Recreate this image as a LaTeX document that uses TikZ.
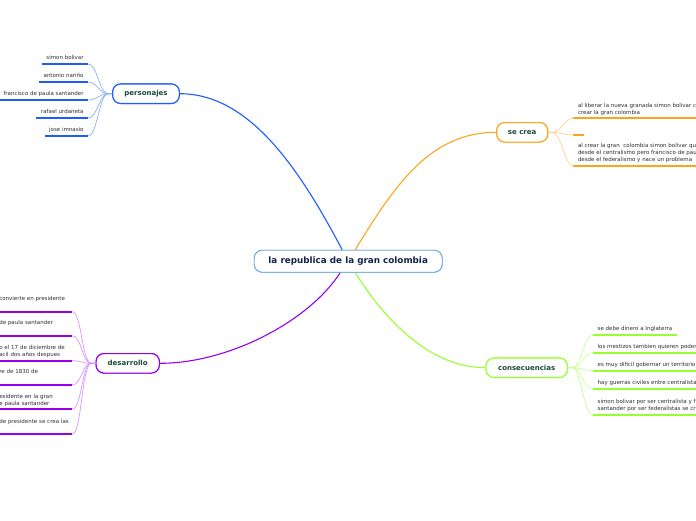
\documentclass[tikz,border=0pt]{standalone}
\usepackage{fontspec}
\setmainfont{DejaVu Sans}
\definecolor{blueMain}{RGB}{30,92,255}
\definecolor{blueLight}{RGB}{140,172,255}
\definecolor{orangeMain}{RGB}{255,163,30}
\definecolor{orangeLight}{RGB}{255,208,145}
\definecolor{greenMain}{RGB}{150,255,50}
\definecolor{greenLight}{RGB}{200,255,150}
\definecolor{purpleMain}{RGB}{150,0,240}
\definecolor{purpleLight}{RGB}{215,150,255}
\definecolor{centerBorder}{RGB}{105,168,222}
\definecolor{nodeText}{RGB}{25,72,58}
\definecolor{centerText}{RGB}{20,35,75}
\definecolor{subText}{RGB}{45,45,45}
\begin{document}
\begin{tikzpicture}[x=1pt,y=-1pt,
  topic/.style={draw, rounded corners=8pt, fill=white, line width=1.1pt,
    font=\fontsize{7}{8}\selectfont\bfseries, text=nodeText,
    minimum height=19.5pt, inner xsep=0pt},
  central/.style={draw=centerBorder, rounded corners=8pt, fill=white, line width=0.9pt,
    font=\fontsize{8.8}{10}\selectfont\bfseries, text=centerText,
    minimum width=188pt, minimum height=22pt, inner xsep=0pt},
  sub/.style={font=\fontsize{5.5}{7}\selectfont, text=subText, inner xsep=4.5pt,
    inner ysep=2.8pt, align=left, execute at end node={\vphantom{gj}}},
  subcut/.style={sub, text width=68pt, anchor=south east},
  mainline/.style={line width=1.1pt},
  ul/.style={line width=1.8pt},
  conn/.style={line width=0.7pt}
]
\useasboundingbox (0,0) rectangle (696,520);
\clip (0,0) rectangle (696,520);

% central node
\node[central] (center) at (348.2,261.2) {la republica de la gran colombia};

% main connector anchors
\coordinate (bA) at ([xshift=-6pt]center.north);
\coordinate (oA) at ([xshift=7pt]center.north);
\coordinate (pA) at ([xshift=-8pt]center.south);
\coordinate (gA) at ([xshift=7pt]center.south);

% topics
\node[topic, draw=blueMain, minimum width=66.6pt] (pers) at (146,93.7) {personajes};
\node[topic, draw=orangeMain, minimum width=51pt] (secrea) at (522.2,132.3) {se crea};
\node[topic, draw=greenMain, minimum width=81.3pt] (cons) at (526.7,367.7) {consecuencias};
\node[topic, draw=purpleMain, minimum width=63.3pt] (desa) at (127.7,363.3) {desarrollo};

\draw[mainline, blueMain] (bA) .. controls (300,170) and (250,93.7) .. (pers.east);
\draw[mainline, orangeMain] (oA) .. controls (395,185) and (430,132.3) .. (secrea.west);
\draw[mainline, purpleMain] (pA) .. controls (310,320) and (230,363.3) .. (desa.east);
\draw[mainline, greenMain] (gA) .. controls (385,320) and (430,367.7) .. (cons.west);

% redraw nodes on top of connector ends
\node[central] at (center) {la republica de la gran colombia};
\node[topic, draw=blueMain, minimum width=66.6pt] at (pers) {personajes};
\node[topic, draw=orangeMain, minimum width=51pt] at (secrea) {se crea};
\node[topic, draw=greenMain, minimum width=81.3pt] at (cons) {consecuencias};
\node[topic, draw=purpleMain, minimum width=63.3pt] at (desa) {desarrollo};

% personajes subtopics
\node[sub, anchor=south east] (p1) at (88.3,64) {simon bolivar};
\node[sub, anchor=south east] (p2) at (88.3,82) {antonio nariño};
\node[sub, anchor=south east] (p3) at (88.3,100) {francisco de paula santander};
\node[sub, anchor=south east] (p4) at (88.3,118) {rafael urdaneta};
\node[sub, anchor=south east] (p5) at (88.3,136) {jose imnasio};
\foreach \n in {p1,p2,p3,p4,p5}{
  \draw[ul, blueMain] (\n.south west) -- (\n.south east);
  \draw[conn, blueLight] (pers.west) -- ++(-4,0) .. controls +(-9,0) and +(9,0) .. (\n.south east);
}

% desarrollo subtopics
\node[subcut] (d1) at (72,311.7) {convierte en presidente\\\mbox{}};
\node[subcut] (d2) at (72,335.7) {de paula santander\\\mbox{}};
\node[subcut] (d3) at (72,360.7) {o el 17 de diciembre de\\acil dos años despues};
\node[subcut] (d4) at (72,385) {re de 1830 de\\\mbox{}};
\node[subcut] (d5) at (72,409.3) {esidente en la gran\\e paula santander};
\node[subcut] (d6) at (72,434.3) {\mbox{de presidente se crea las}\\\mbox{}};
\foreach \n in {d1,d2,d3,d4,d5,d6}{
  \draw[ul, purpleMain] (\n.south west) -- (\n.south east);
  \draw[conn, purpleLight] (desa.west) -- ++(-4,0) .. controls +(-10,0) and +(10,0) .. (\n.south east);
}

% se crea subtopics
\node[sub, anchor=south west] (s1) at (573.3,118.3) {al liberar la nueva granada simon bolivar c\\crear la gran colombia};
\node[anchor=south west, minimum width=10pt, minimum height=0pt, inner sep=0pt] (s2) at (573.3,135) {};
\node[sub, anchor=south west] (s3) at (573.3,165.7) {al crear la gran~ colombia simon bolivar qu\\desde el centralismo pero francisco de pau\\desde el federalismo y nace un problema};
\foreach \n in {s1,s2,s3}{
  \draw[ul, orangeMain] (\n.south west) -- (\n.south east);
  \draw[conn, orangeLight] (secrea.east) -- ++(4,0) .. controls +(9,0) and +(-9,0) .. (\n.south west);
}

% consecuencias subtopics
\node[sub, anchor=south west] (c1) at (593,335) {se debe dinero a Inglaterra};
\node[sub, anchor=south west] (c2) at (593,352.7) {los mestizos tambien quieren poder};
\node[sub, anchor=south west] (c3) at (593,370.7) {es muy dificil gobernar un territorio};
\node[sub, anchor=south west] (c4) at (593,388.7) {hay guerras civiles entre centralistas};
\node[sub, anchor=south west] (c5) at (593,414.8) {simon bolivar por ser centralista y f\\santander por ser federalistas se cr};
\foreach \n in {c1,c2,c3,c4,c5}{
  \draw[ul, greenMain] (\n.south west) -- (\n.south east);
  \draw[conn, greenLight] (cons.east) -- ++(4,0) .. controls +(10,0) and +(-10,0) .. (\n.south west);
}
\end{tikzpicture}
\end{document}
